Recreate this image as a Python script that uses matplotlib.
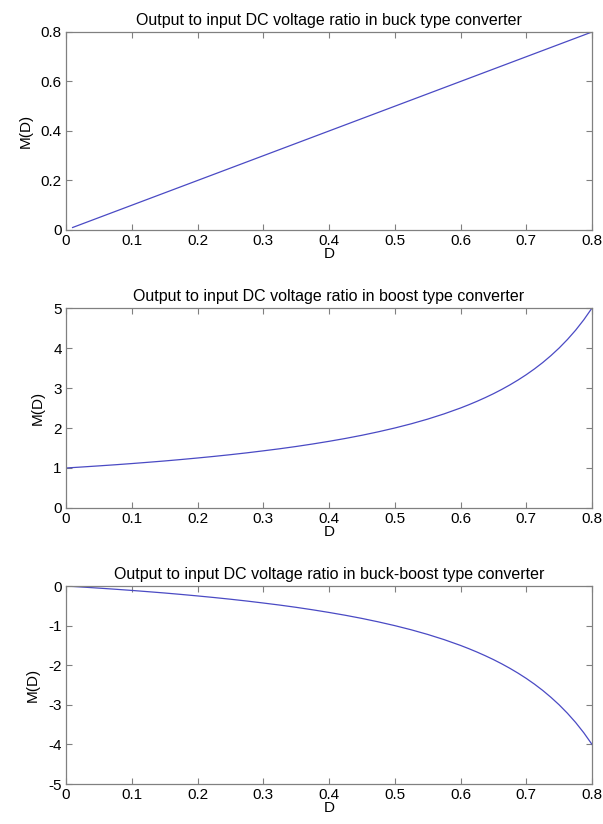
import matplotlib
matplotlib.use("Agg")
import matplotlib.pyplot as plt

plt.rcParams["font.family"] = ["Liberation Sans", "DejaVu Sans"]
plt.rcParams["font.size"] = 11

# duty cycle grid (denser near the steep end)
D = [0.0, 0.025, 0.05, 0.075, 0.1, 0.125, 0.15, 0.175, 0.2, 0.225, 0.25,
     0.275, 0.3, 0.325, 0.35, 0.375, 0.4, 0.425, 0.45, 0.475, 0.5, 0.525,
     0.55, 0.575, 0.6, 0.6125, 0.625, 0.6375, 0.65, 0.6625, 0.675, 0.6875,
     0.7, 0.7125, 0.725, 0.7375, 0.75, 0.7625, 0.775, 0.7875, 0.8]

D_buck = [0.01, 0.1, 0.2, 0.3, 0.4, 0.5, 0.6, 0.7, 0.8]
M_buck = [0.01, 0.1, 0.2, 0.3, 0.4, 0.5, 0.6, 0.7, 0.8]

M_boost = [1.000, 1.026, 1.053, 1.081, 1.111, 1.143, 1.176, 1.212, 1.250,
           1.290, 1.333, 1.379, 1.429, 1.481, 1.538, 1.600, 1.667, 1.739,
           1.818, 1.905, 2.000, 2.105, 2.222, 2.353, 2.500, 2.581, 2.667,
           2.759, 2.857, 2.963, 3.077, 3.200, 3.333, 3.478, 3.636, 3.810,
           4.000, 4.211, 4.444, 4.706, 5.000]

M_buckboost = [0.0, -0.026, -0.053, -0.081, -0.111, -0.143, -0.176, -0.212,
               -0.250, -0.290, -0.333, -0.379, -0.429, -0.481, -0.538, -0.600,
               -0.667, -0.739, -0.818, -0.905, -1.000, -1.105, -1.222, -1.353,
               -1.500, -1.581, -1.667, -1.759, -1.857, -1.963, -2.077, -2.200,
               -2.333, -2.478, -2.636, -2.810, -3.000, -3.211, -3.444, -3.706,
               -4.000]

XTICKS = [0, 0.1, 0.2, 0.3, 0.4, 0.5, 0.6, 0.7, 0.8]
XTICKLABELS = ["0", "0.1", "0.2", "0.3", "0.4", "0.5", "0.6", "0.7", "0.8"]

panels = [
    dict(x=D_buck, y=M_buck, ylim=(0, 0.8), yticks=[0, 0.2, 0.4, 0.6, 0.8],
         ylabels=["0", "0.2", "0.4", "0.6", "0.8"],
         title="Output to input DC voltage ratio in buck type converter",
         rect=[0.1095, 0.7209, 0.8723, 0.2403]),
    dict(x=D, y=M_boost, ylim=(0, 5), yticks=[0, 1, 2, 3, 4, 5],
         ylabels=["0", "1", "2", "3", "4", "5"],
         title="Output to input DC voltage ratio in boost type converter",
         rect=[0.1095, 0.3835, 0.8723, 0.2427]),
    dict(x=D, y=M_buckboost, ylim=(-5, 0), yticks=[-5, -4, -3, -2, -1, 0],
         ylabels=["-5", "-4", "-3", "-2", "-1", "0"],
         title="Output to input DC voltage ratio in buck-boost type converter",
         rect=[0.1095, 0.0485, 0.8723, 0.2403]),
]

fig = plt.figure(figsize=(6.03, 8.24), dpi=100)
for p in panels:
    ax = fig.add_axes(p["rect"])
    ax.plot(p["x"], p["y"], color="#4a4ac4", lw=0.9)
    ax.set_xlim(0, 0.8)
    ax.set_ylim(*p["ylim"])
    ax.set_xticks(XTICKS)
    ax.set_xticklabels(XTICKLABELS)
    ax.set_yticks(p["yticks"])
    ax.set_yticklabels(p["ylabels"])
    ax.tick_params(direction="in", top=True, right=True, length=4,
                   width=0.8, color="#808080", labelsize=11, pad=3)
    for s in ax.spines.values():
        s.set_color("#808080")
        s.set_linewidth(0.9)
    ax.set_xlabel("D", labelpad=-1)
    ax.set_ylabel("M(D)", labelpad=6)
    ax.set_title(p["title"], fontsize=11.5, pad=5)

fig.savefig("out.png", dpi=100)
